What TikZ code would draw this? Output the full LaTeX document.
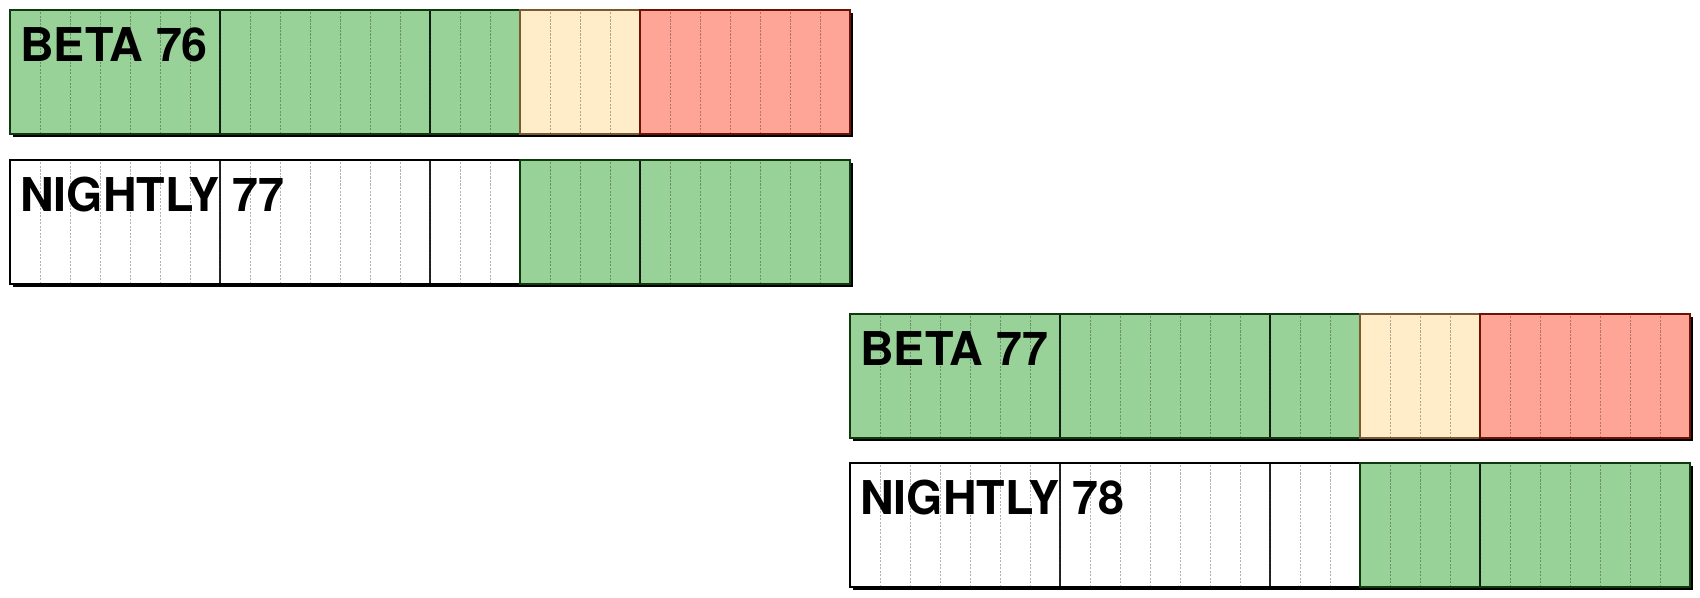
\documentclass[tikz,border=0pt]{standalone}
\usepackage{fontspec}
\setmainfont{TeX Gyre Heros}
\usepackage{tikz}
\definecolor{rel_green}{HTML}{98D298}
\definecolor{rel_darkgreen}{HTML}{0E3A0E}
\definecolor{rel_yellow}{HTML}{FFECC8}
\definecolor{rel_brown}{HTML}{7A5A30}
\definecolor{rel_red}{HTML}{FFA597}
\definecolor{rel_darkred}{HTML}{6E1208}

\begin{document}
\begin{tikzpicture}[
    x=0.6cm, y=1cm,
    daygrid/.style={black, opacity=0.3, line width=0.55pt, dash pattern=on 1.2pt off 0.8pt},
    weekline/.style={black, opacity=0.85, line width=0.6pt},
    blockborder/.style={line width=1.4pt},
    shadow/.style={fill=black},
    barlabel/.style={font=\bfseries\fontsize{26.5}{28}\selectfont, anchor=base west, inner sep=0pt}
]

% --- Seite: weiss, feste Groesse ---
\path[use as bounding box, fill=white] (0cm,0cm) rectangle (34cm,11.96cm);

% --- Beta-Balken: gruen / gelb / rot ---
\foreach \bx/\by/\bname/\btext in {0.2/9.28/beta76/BETA 76, 17.0/3.20/beta77/BETA 77} {
  \begin{scope}[shift={(\bx cm,\by cm)}]
    % Schatten unten rechts
    \fill[shadow] (0.06cm,-0.06cm) rectangle (28.1,2.42);
    % Flaechen
    \fill[rel_green]  (0,0) rectangle (17,2.48);
    \fill[rel_yellow] (17,0) rectangle (21,2.48);
    \fill[rel_red]    (21,0) rectangle (28,2.48);
    % Tage
    \foreach \d in {1,...,27}
      \draw[daygrid] (\d,0) -- (\d,2.48);
    % Wochen
    \foreach \w in {7,14}
      \draw[weekline] (\w,0) -- (\w,2.48);
    % Raender
    \draw[blockborder, rel_darkgreen] (0,0) rectangle (17,2.48);
    \draw[blockborder, rel_brown]     (17,0) rectangle (21,2.48);
    \draw[blockborder, rel_darkred]   (21,0) rectangle (28,2.48);
    \node[barlabel] (\bname) at (0.2cm,1.44cm) {\btext};
  \end{scope}
}

% --- Nightly-Balken: weiss / gruen ---
\foreach \bx/\by/\bname/\btext in {0.2/6.28/nightly77/NIGHTLY 77, 17.0/0.22/nightly78/NIGHTLY 78} {
  \begin{scope}[shift={(\bx cm,\by cm)}]
    \fill[shadow] (0.06cm,-0.06cm) rectangle (28.1,2.42);
    \fill[white]     (0,0) rectangle (17,2.48);
    \fill[rel_green] (17,0) rectangle (28,2.48);
    \foreach \d in {1,...,27}
      \draw[daygrid] (\d,0) -- (\d,2.48);
    \foreach \w in {7,14,21}
      \draw[weekline] (\w,0) -- (\w,2.48);
    \draw[blockborder, black]         (0,0) rectangle (17,2.48);
    \draw[blockborder, rel_darkgreen] (17,0) rectangle (28,2.48);
    \node[barlabel] (\bname) at (0.2cm,1.44cm) {\btext};
  \end{scope}
}

\end{tikzpicture}
\end{document}
